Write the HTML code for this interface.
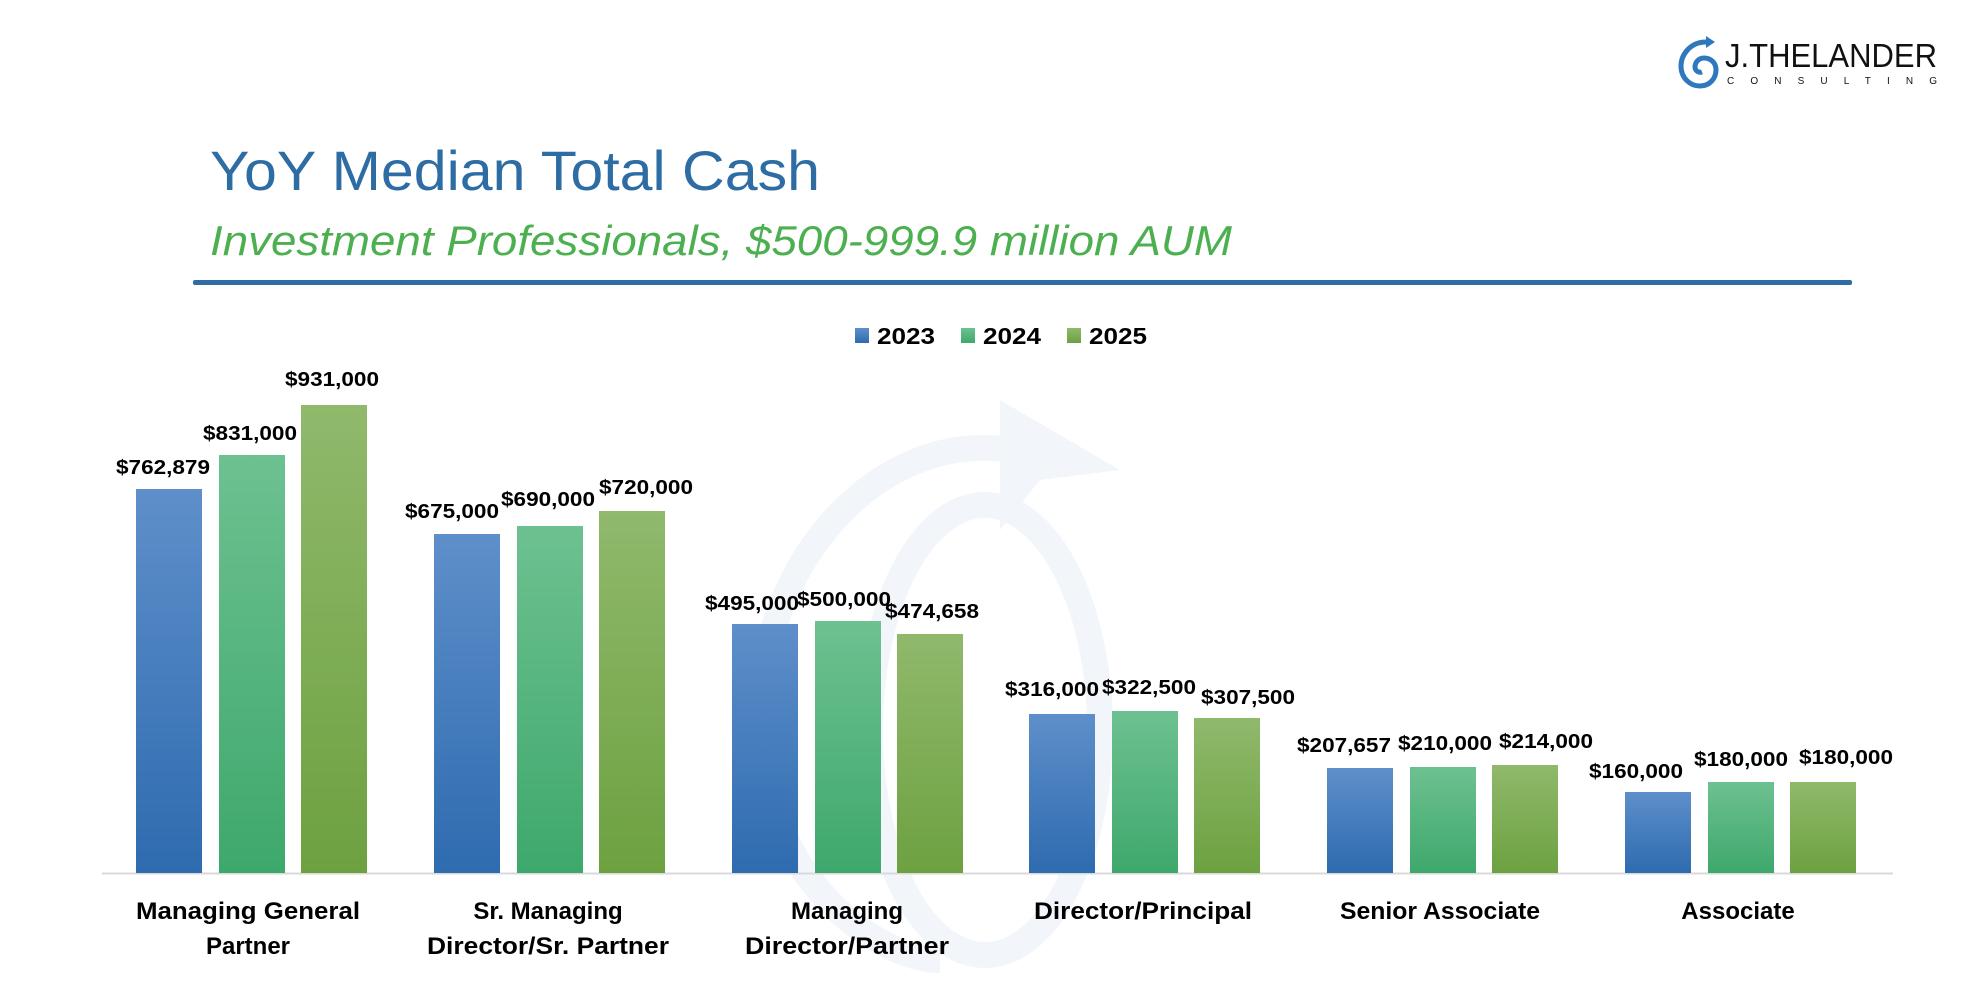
<!DOCTYPE html>
<html><head><meta charset="utf-8"><style>
html,body{margin:0;padding:0;background:#fff;}
svg{display:block;font-family:"Liberation Sans",sans-serif;}
.v{font-weight:bold;font-size:20px;fill:#000;text-anchor:middle;}
.c{font-weight:bold;font-size:24px;fill:#000;text-anchor:middle;}
</style></head><body>
<svg width="1984" height="1008" viewBox="0 0 1984 1008" xmlns="http://www.w3.org/2000/svg">
<defs>
<linearGradient id="gb" x1="0" y1="0" x2="0" y2="1"><stop offset="0" stop-color="#5E8FCA"/><stop offset="1" stop-color="#2E6BAF"/></linearGradient>
<linearGradient id="gg" x1="0" y1="0" x2="0" y2="1"><stop offset="0" stop-color="#6DC190"/><stop offset="1" stop-color="#3EA86C"/></linearGradient>
<linearGradient id="go" x1="0" y1="0" x2="0" y2="1"><stop offset="0" stop-color="#90B96C"/><stop offset="1" stop-color="#6DA140"/></linearGradient>
</defs>
<rect width="1984" height="1008" fill="#fff"/>
<!-- watermark -->
<g fill="none" stroke="#F2F6FA" stroke-width="26">
<path d="M1010 450 C880 430 760 560 760 720 C760 880 880 960 940 960"/>
<ellipse cx="985" cy="730" rx="115" ry="225"/>
</g>
<path d="M1000 400 L1120 470 L1040 480 L1000 530 Z" fill="#F2F6FA"/>
<!-- logo -->
<g fill="none" stroke="#2F78BE" stroke-width="5">
<path d="M1706 42 C1690 42 1681 55 1681 66 C1681 78 1690 86 1700 86 C1710 86 1716 78 1716 70 C1716 62 1710 58 1704 58 C1698 58 1695 63 1695 67 C1695 71 1699 73 1702 72"/>
</g>
<path d="M1706 36 L1715 42 L1706 48 Z" fill="#2F78BE"/>
<text x="1725" y="67" font-size="33" fill="#111" textLength="212" lengthAdjust="spacingAndGlyphs">J.THELANDER</text>
<text x="1727" y="84" font-size="10" fill="#111" textLength="210">CONSULTING</text>
<!-- titles -->
<text x="210" y="190" font-size="56" fill="#2E6DA4" textLength="610" lengthAdjust="spacingAndGlyphs">YoY Median Total Cash</text>
<text x="210" y="255" font-size="42" font-style="italic" fill="#4CAF50" textLength="1022" lengthAdjust="spacingAndGlyphs">Investment Professionals, $500-999.9 million AUM</text>
<rect x="193" y="280" width="1659" height="5" rx="2" fill="#2E6DA4"/>
<!-- legend -->
<rect x="855" y="328" width="14" height="15" fill="url(#gb)"/>
<text x="877" y="344" font-size="23" font-weight="bold" textLength="58" lengthAdjust="spacingAndGlyphs">2023</text>
<rect x="961" y="328" width="14" height="15" fill="url(#gg)"/>
<text x="983" y="344" font-size="23" font-weight="bold" textLength="58" lengthAdjust="spacingAndGlyphs">2024</text>
<rect x="1067" y="328" width="14" height="15" fill="url(#go)"/>
<text x="1089" y="344" font-size="23" font-weight="bold" textLength="58" lengthAdjust="spacingAndGlyphs">2025</text>
<!-- axis -->
<line x1="102" y1="873.5" x2="1893" y2="873.5" stroke="#D9D9D9" stroke-width="2"/>
<!-- bars -->
<g>
<rect x="136" y="489" width="66" height="384" fill="url(#gb)"/>
<rect x="219" y="455" width="66" height="418" fill="url(#gg)"/>
<rect x="301" y="405" width="66" height="468" fill="url(#go)"/>
<rect x="434" y="534" width="66" height="339" fill="url(#gb)"/>
<rect x="517" y="526" width="66" height="347" fill="url(#gg)"/>
<rect x="599" y="511" width="66" height="362" fill="url(#go)"/>
<rect x="732" y="624" width="66" height="249" fill="url(#gb)"/>
<rect x="815" y="621" width="66" height="252" fill="url(#gg)"/>
<rect x="897" y="634" width="66" height="239" fill="url(#go)"/>
<rect x="1029" y="714" width="66" height="159" fill="url(#gb)"/>
<rect x="1112" y="711" width="66" height="162" fill="url(#gg)"/>
<rect x="1194" y="718" width="66" height="155" fill="url(#go)"/>
<rect x="1327" y="768" width="66" height="105" fill="url(#gb)"/>
<rect x="1410" y="767" width="66" height="106" fill="url(#gg)"/>
<rect x="1492" y="765" width="66" height="108" fill="url(#go)"/>
<rect x="1625" y="792" width="66" height="81" fill="url(#gb)"/>
<rect x="1708" y="782" width="66" height="91" fill="url(#gg)"/>
<rect x="1790" y="782" width="66" height="91" fill="url(#go)"/>
</g>
<!-- value labels -->
<g>
<text class="v" x="163" y="474" textLength="94" lengthAdjust="spacingAndGlyphs">$762,879</text>
<text class="v" x="250" y="440" textLength="94" lengthAdjust="spacingAndGlyphs">$831,000</text>
<text class="v" x="332" y="386" textLength="94" lengthAdjust="spacingAndGlyphs">$931,000</text>
<text class="v" x="452" y="518" textLength="94" lengthAdjust="spacingAndGlyphs">$675,000</text>
<text class="v" x="548" y="506" textLength="94" lengthAdjust="spacingAndGlyphs">$690,000</text>
<text class="v" x="646" y="494" textLength="94" lengthAdjust="spacingAndGlyphs">$720,000</text>
<text class="v" x="752" y="610" textLength="94" lengthAdjust="spacingAndGlyphs">$495,000</text>
<text class="v" x="844" y="606" textLength="94" lengthAdjust="spacingAndGlyphs">$500,000</text>
<text class="v" x="932" y="618" textLength="94" lengthAdjust="spacingAndGlyphs">$474,658</text>
<text class="v" x="1052" y="696" textLength="94" lengthAdjust="spacingAndGlyphs">$316,000</text>
<text class="v" x="1149" y="694" textLength="94" lengthAdjust="spacingAndGlyphs">$322,500</text>
<text class="v" x="1248" y="704" textLength="94" lengthAdjust="spacingAndGlyphs">$307,500</text>
<text class="v" x="1344" y="752" textLength="94" lengthAdjust="spacingAndGlyphs">$207,657</text>
<text class="v" x="1445" y="750" textLength="94" lengthAdjust="spacingAndGlyphs">$210,000</text>
<text class="v" x="1546" y="748" textLength="94" lengthAdjust="spacingAndGlyphs">$214,000</text>
<text class="v" x="1636" y="778" textLength="94" lengthAdjust="spacingAndGlyphs">$160,000</text>
<text class="v" x="1741" y="766" textLength="94" lengthAdjust="spacingAndGlyphs">$180,000</text>
<text class="v" x="1846" y="764" textLength="94" lengthAdjust="spacingAndGlyphs">$180,000</text>
</g>
<!-- category labels -->
<text class="c" x="248" y="919" textLength="224" lengthAdjust="spacingAndGlyphs">Managing General</text>
<text class="c" x="248" y="954">Partner</text>
<text class="c" x="548" y="919">Sr. Managing</text>
<text class="c" x="548" y="954" textLength="242" lengthAdjust="spacingAndGlyphs">Director/Sr. Partner</text>
<text class="c" x="847" y="919">Managing</text>
<text class="c" x="847" y="954" textLength="204" lengthAdjust="spacingAndGlyphs">Director/Partner</text>
<text class="c" x="1143" y="919" textLength="218" lengthAdjust="spacingAndGlyphs">Director/Principal</text>
<text class="c" x="1440" y="919" textLength="200" lengthAdjust="spacingAndGlyphs">Senior Associate</text>
<text class="c" x="1738" y="919">Associate</text>
</svg>
</body></html>
